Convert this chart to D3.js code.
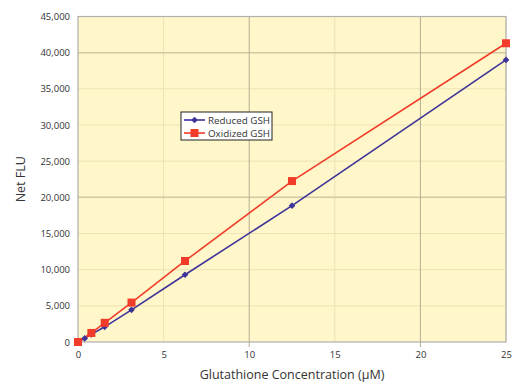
<!DOCTYPE html>
<html>
<head>
<meta charset="utf-8">
<script src="https://d3js.org/d3.v7.min.js"></script>
<style>
  body { margin: 0; background: white; }
  text { font-family: "Open Sans", sans-serif; fill: #333; }
</style>
</head>
<body>
<svg width="527" height="390"></svg>
<script>
// concentrations (uM) and net FLU
var concReduced = [0, 0.39, 0.78, 1.56, 3.125, 6.25, 12.5, 25];
var fluReduced  = [0, 500, 1050, 2100, 4450, 9300, 18850, 39000];
var concOxidized = [0, 0.78, 1.56, 3.125, 6.25, 12.5, 25];
var fluOxidized  = [0, 1250, 2650, 5450, 11200, 22250, 41300];
var xTicks = [0, 5, 10, 15, 20, 25];
var yTicks = [0, 5000, 10000, 15000, 20000, 25000, 30000, 35000, 40000, 45000];

var svg = d3.select('svg');
var plotL = 78, plotR = 506, plotT = 16.5, plotB = 342;

var x = d3.scaleLinear().domain([0, 25]).range([plotL, plotR]);
var y = d3.scaleLinear().domain([0, 45000]).range([plotB, plotT]);

svg.append('rect')
  .attr('x', plotL).attr('y', plotT)
  .attr('width', plotR - plotL).attr('height', plotB - plotT)
  .attr('fill', '#fff6c9');

// minor grid
svg.append('g').selectAll('line')
  .data(yTicks.filter(function(d) { return d % 20000 != 0; }))
  .enter().append('line')
  .attr('x1', plotL).attr('x2', plotR)
  .attr('y1', function(d) { return y(d); }).attr('y2', function(d) { return y(d); })
  .attr('stroke', '#ede2b4').attr('stroke-width', 1);
svg.append('g').selectAll('line')
  .data(xTicks.filter(function(d) { return d % 10 != 0; }))
  .enter().append('line')
  .attr('y1', plotT).attr('y2', plotB)
  .attr('x1', function(d) { return x(d); }).attr('x2', function(d) { return x(d); })
  .attr('stroke', '#ede2b4').attr('stroke-width', 1);

// major grid
svg.append('g').selectAll('line')
  .data([20000, 40000])
  .enter().append('line')
  .attr('x1', plotL).attr('x2', plotR)
  .attr('y1', function(d) { return y(d); }).attr('y2', function(d) { return y(d); })
  .attr('stroke', '#d2c8a2').attr('stroke-width', 1.5);
svg.append('g').selectAll('line')
  .data([10, 20])
  .enter().append('line')
  .attr('y1', plotT).attr('y2', plotB + 5)
  .attr('x1', function(d) { return x(d); }).attr('x2', function(d) { return x(d); })
  .attr('stroke', '#b5ad94').attr('stroke-width', 1);

// frame
svg.append('rect')
  .attr('x', plotL).attr('y', plotT)
  .attr('width', plotR - plotL).attr('height', plotB - plotT)
  .attr('fill', 'none').attr('stroke', '#b0b0b0').attr('stroke-width', 1.2);

// axes
var yAxis = svg.append('g')
  .attr('transform', 'translate(' + plotL + ',0)')
  .call(d3.axisLeft(y).tickValues(yTicks).tickSize(0).tickPadding(8)
        .tickFormat(d3.format(',')));
yAxis.select('.domain').remove();
yAxis.selectAll('text').style('font-size', '9.5px').style('font-family', '"Open Sans", sans-serif').attr('fill', '#333');

var xAxis = svg.append('g')
  .attr('transform', 'translate(0,' + plotB + ')')
  .call(d3.axisBottom(x).tickValues(xTicks).tickSize(0).tickPadding(9));
xAxis.select('.domain').remove();
xAxis.selectAll('text').style('font-size', '9.5px').style('font-family', '"Open Sans", sans-serif').attr('fill', '#333');

svg.append('text')
  .attr('x', (plotL + plotR) / 2).attr('y', 379)
  .attr('text-anchor', 'middle')
  .style('font-size', '12.5px')
  .text('Glutathione Concentration (µM)');

svg.append('text')
  .attr('transform', 'translate(25,' + ((plotT + plotB) / 2) + ') rotate(-90)')
  .attr('text-anchor', 'middle')
  .style('font-size', '12.5px')
  .text('Net FLU');

var blue = '#3d3399', red = '#f03c28';
var line = d3.line()
  .x(function(d) { return x(d[0]); })
  .y(function(d) { return y(d[1]); });

var reduced = d3.zip(concReduced, fluReduced);
var oxidized = d3.zip(concOxidized, fluOxidized);

svg.append('path').datum(reduced)
  .attr('d', line).attr('fill', 'none').attr('stroke', blue).attr('stroke-width', 1.6);
svg.append('path').datum(oxidized)
  .attr('d', line).attr('fill', 'none').attr('stroke', red).attr('stroke-width', 1.6);

// diamond marker: a small square turned 45 degrees
var diamond = d3.symbol().type(d3.symbolSquare).size(22);
svg.append('g').selectAll('path')
  .data(reduced).enter().append('path')
  .attr('d', diamond)
  .attr('transform', function(d) { return 'translate(' + x(d[0]) + ',' + y(d[1]) + ') rotate(45)'; })
  .attr('fill', blue);

svg.append('g').selectAll('rect')
  .data(oxidized).enter().append('rect')
  .attr('x', function(d) { return x(d[0]) - 4; })
  .attr('y', function(d) { return y(d[1]) - 4; })
  .attr('width', 8).attr('height', 8)
  .attr('fill', red);

// legend
var legend = svg.append('g').attr('transform', 'translate(181,112)');
legend.append('rect')
  .attr('width', 91).attr('height', 28)
  .attr('fill', 'white').attr('stroke', '#222').attr('stroke-width', 1);
legend.append('line').attr('x1', 3).attr('x2', 24).attr('y1', 8).attr('y2', 8)
  .attr('stroke', blue).attr('stroke-width', 1.6);
legend.append('path').attr('d', diamond).attr('transform', 'translate(13.5,8) rotate(45)').attr('fill', blue);
legend.append('text').attr('x', 27).attr('y', 11.5).style('font-size', '9.8px').text('Reduced GSH');
legend.append('line').attr('x1', 3).attr('x2', 24).attr('y1', 21).attr('y2', 21)
  .attr('stroke', red).attr('stroke-width', 1.6);
legend.append('rect').attr('x', 9.5).attr('y', 17).attr('width', 8).attr('height', 8).attr('fill', red);
legend.append('text').attr('x', 27).attr('y', 24.5).style('font-size', '9.8px').text('Oxidized GSH');
</script>
</body>
</html>
